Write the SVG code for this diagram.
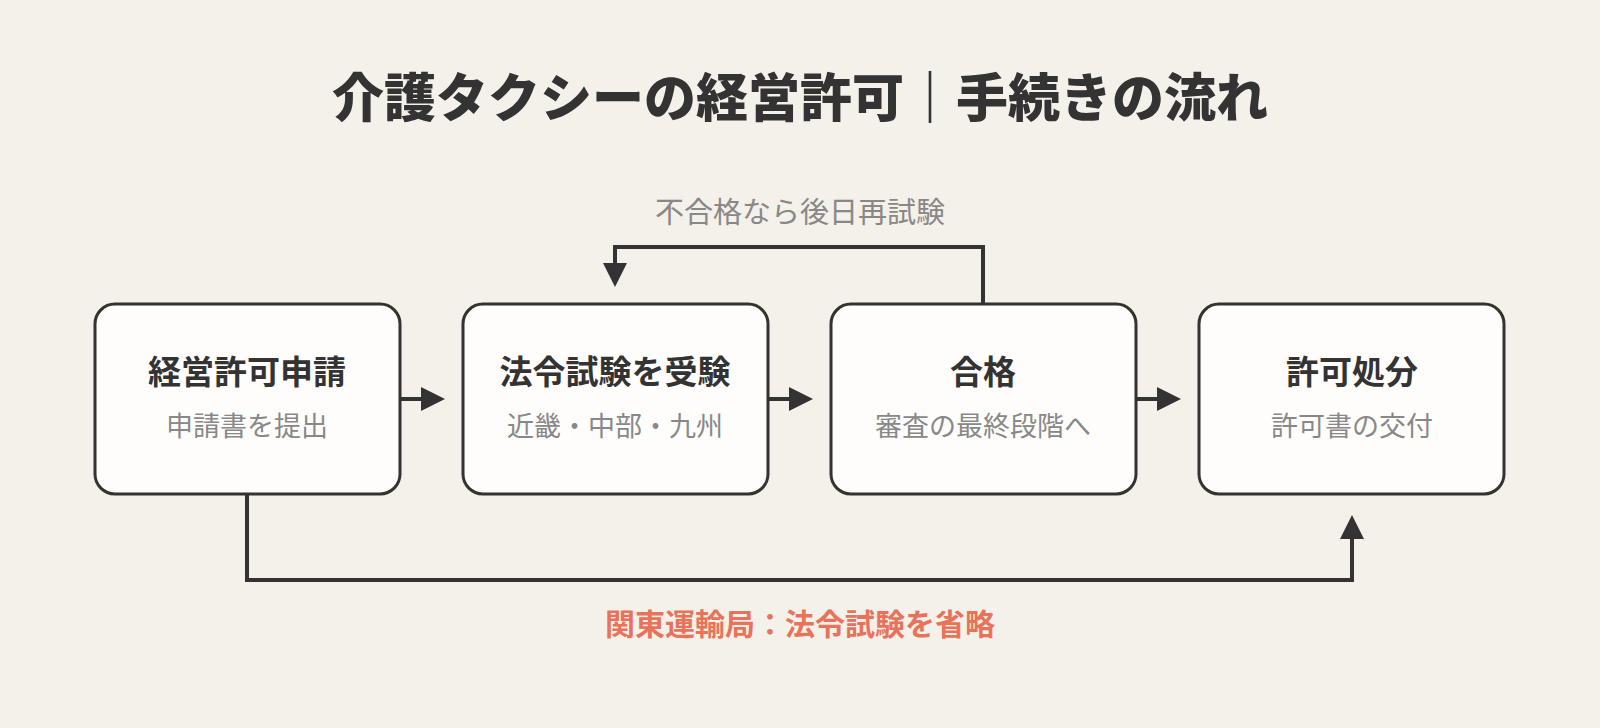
<svg xmlns="http://www.w3.org/2000/svg" width="1600" height="728" viewBox="0 0 1600 728">
<style>
text{font-family:"Noto Sans CJK JP","Noto Sans",sans-serif;text-anchor:middle}
.box{fill:#fefdfb;stroke:#333;stroke-width:3}
.t{font-size:33px;font-weight:700;fill:#333}
.s{font-size:27px;fill:#888}
.c{fill:none;stroke:#333;stroke-width:4}
</style>
<defs><marker id="a" markerWidth="6" markerHeight="6" refX="5" refY="3" orient="auto" markerUnits="strokeWidth"><path d="M0,0L6,3L0,6Z" fill="#333"/></marker></defs>
<rect width="1600" height="728" fill="#f4f0ea"/>
<text x="800" y="117" font-size="52" font-weight="900" fill="#333">介護タクシーの経営許可｜手続きの流れ</text>
<g id="n1"><rect class="box" x="95" y="304" width="305" height="190" rx="20"/><text class="t" x="247" y="384">経営許可申請</text><text class="s" x="247" y="436">申請書を提出</text></g>
<g id="n2"><rect class="box" x="463" y="304" width="305" height="190" rx="20"/><text class="t" x="615" y="384">法令試験を受験</text><text class="s" x="615" y="436">近畿・中部・九州</text></g>
<g id="n3"><rect class="box" x="831" y="304" width="305" height="190" rx="20"/><text class="t" x="983" y="384">合格</text><text class="s" x="983" y="436">審査の最終段階へ</text></g>
<g id="n4"><rect class="box" x="1199" y="304" width="305" height="190" rx="20"/><text class="t" x="1352" y="384">許可処分</text><text class="s" x="1352" y="436">許可書の交付</text></g>
<g id="connectors">
<path class="c" d="M400,399H441" marker-end="url(#a)"/>
<path class="c" d="M768,399H809" marker-end="url(#a)"/>
<path class="c" d="M1136,399H1177" marker-end="url(#a)"/>
<path class="c" d="M983,304V247H615V283" marker-end="url(#a)"/>
<path class="c" d="M247,494V580H1352V519" marker-end="url(#a)"/>
<text x="800" y="223" font-size="29" fill="#888">不合格なら後日再試験</text>
<text x="800" y="635" font-size="30" font-weight="700" fill="#e8735a">関東運輸局：法令試験を省略</text>
</g>
</svg>
